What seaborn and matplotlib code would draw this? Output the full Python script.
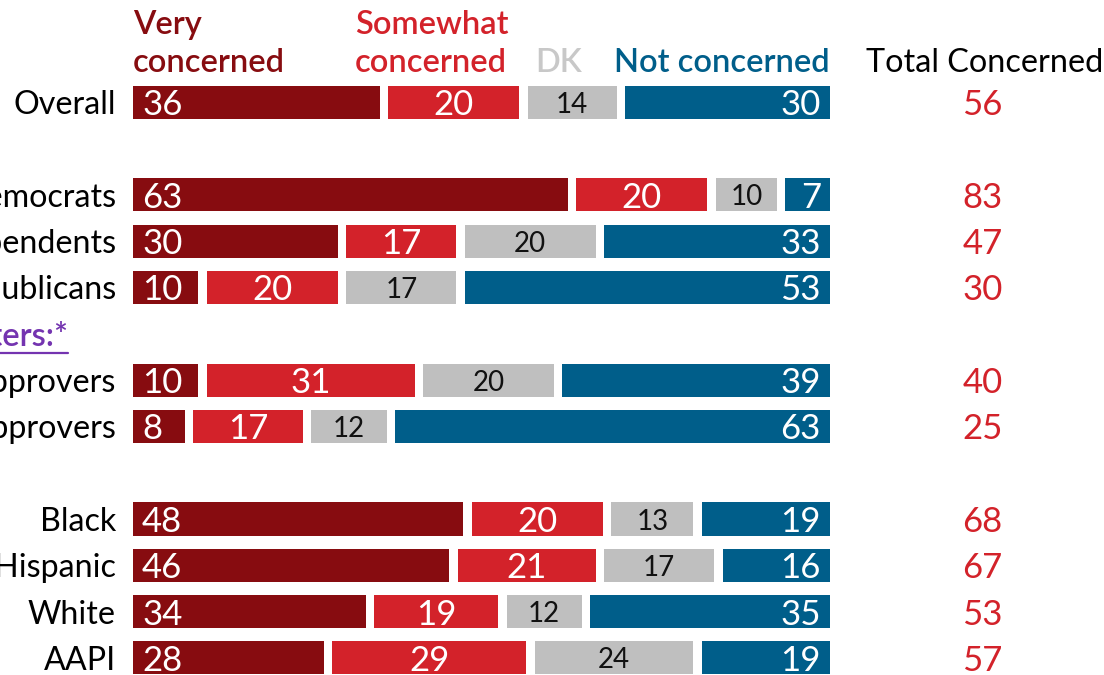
import matplotlib
matplotlib.use("Agg")
import matplotlib.pyplot as plt
import seaborn as sns
import numpy as np
from matplotlib.lines import Line2D

# ---- data ----
rows = ["Overall", "", "Democrats", "Independents", "Republicans", "Among voters:*",
        "Approvers", "Disapprovers", "", "Black", "Hispanic", "White", "AAPI"]
very = [36, None, 63, 30, 10, None, 10, 8, None, 48, 46, 34, 28]
somewhat = [20, None, 20, 17, 20, None, 31, 17, None, 20, 21, 19, 29]
dk = [14, None, 10, 20, 17, None, 20, 12, None, 13, 17, 12, 24]
notc = [30, None, 7, 33, 53, None, 39, 63, None, 19, 16, 35, 19]
total = [56, None, 83, 47, 30, None, 40, 25, None, 68, 67, 53, 57]
series_names = ["Very\nconcerned", "Somewhat\nconcerned", "DK", "Not concerned"]
header_total = "Total Concerned"
header_row = 5

colors = ["#870C10", "#D3222A", "#BFBFBF", "#005E8A"]
hdr_colors = ["#870C10", "#D3222A", "#C8C8C8", "#005E8A"]
num_colors = ["white", "white", "#111111", "white"]

sns.set_theme(style="white")
plt.rcParams["font.family"] = ["Lato", "DejaVu Sans"]

W, H = 1104, 675
fig = plt.figure(figsize=(W / 100, H / 100), dpi=100)
ax = fig.add_axes([0, 0, 1, 1])
px = 100 / 697.0
ax.set_xlim(-133 * px, 100 + (W - 830) * px)
rowpx = 46.33
ax.set_ylim(12 + (H - 658) / rowpx, -102 / rowpx)
ax.axis("off")

gap = 8.5 * px
bar_h = 33 / rowpx
series = [very, somewhat, dk, notc]
for r, name in enumerate(rows):
    if very[r] is None:
        continue
    cum = 0
    for i, s in enumerate(series):
        v = s[r]
        left = cum + (gap / 2 if i > 0 else 0)
        right = cum + v - (gap / 2 if i < 3 else 0)
        ax.barh(r, right - left, left=left, height=bar_h, color=colors[i], linewidth=0)
        kw = dict(va="center_baseline", color=num_colors[i], fontsize=25)
        if i == 0:
            ax.text(left + 1.3, r, str(v), ha="left", **kw)
        elif i == 3:
            ax.text(right - 1.3, r, str(v), ha="right", **kw)
        elif i == 1:
            ax.text((left + right) / 2, r, str(v), ha="center", **kw)
        else:
            kw["fontsize"] = 20
            ax.text((left + right) / 2, r, str(v), ha="center", **kw)
        cum += v
    ax.text(-2.44, r, name, ha="right", va="center_baseline", color="black", fontsize=23.2)
    ax.text(121.9, r, str(total[r]), ha="center", va="center_baseline", color="#D3222A", fontsize=25)

# group header (purple, underlined)
ht = ax.text((68 - 133) * px, header_row, rows[header_row], ha="right", va="center_baseline",
             color="#7434B0", fontsize=23.5, fontweight="semibold")

# legend headers
hx = [0, (355 - 133) * px, (535 - 133) * px, (614 - 133) * px]
y2 = (60 - 102) / rowpx
y1 = (22 - 102) / rowpx
for i, nm in enumerate(series_names):
    parts = nm.split("\n")
    if len(parts) == 2:
        ax.text(hx[i], y1, parts[0], ha="left", va="center_baseline", color=hdr_colors[i], fontsize=23.5, fontweight="semibold")
        ax.text(hx[i], y2, parts[1], ha="left", va="center_baseline", color=hdr_colors[i], fontsize=23.5, fontweight="semibold")
    else:
        ax.text(hx[i], y2, parts[0], ha="left", va="center_baseline", color=hdr_colors[i], fontsize=23.5, fontweight="semibold")
ax.text(122.2, y2, header_total, ha="center", va="center_baseline", color="black", fontsize=23.3)

# underline for purple header
fig.canvas.draw()
bb = ht.get_window_extent(fig.canvas.get_renderer())
ly = bb.y0 - 1
fig.add_artist(Line2D([bb.x0 / W, bb.x1 / W], [ly / H, ly / H], color="#7434B0", linewidth=1.6))

fig.savefig("out.png", dpi=100)
